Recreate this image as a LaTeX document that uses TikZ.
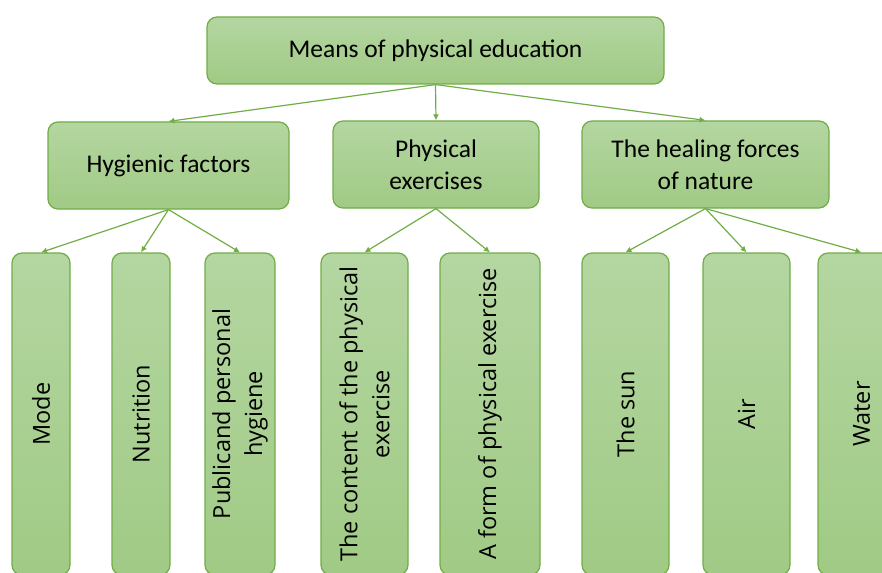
\documentclass[tikz,border=0pt]{standalone}
\usepackage{fontspec}
\setmainfont{Carlito}
\newfontfamily\leaffont{Open Sans}
\usetikzlibrary{arrows.meta}
\definecolor{boxline}{HTML}{71AD47}
\definecolor{boxtop}{HTML}{B4D6A1}
\definecolor{boxbot}{HTML}{A0CA85}
\newcommand{\boxfont}{\fontsize{25.5}{32}\selectfont}
\newcommand{\leafsize}{\leaffont\fontsize{23.5}{32}\selectfont}

\begin{document}
\begin{tikzpicture}[x=1pt,y=-1pt,
  box/.style={draw=boxline, line width=1.2pt, rounded corners=10pt,
    top color=boxtop, bottom color=boxbot, align=center,
    inner sep=0pt, font=\boxfont},
  leaf/.style={box, minimum height=322pt},
  vtext/.style={rotate=90, align=center, font=\leafsize},
  link/.style={-{Latex[length=6pt,width=6pt]}, boxline, line width=1.2pt}]
\useasboundingbox (0,0) rectangle (882,572);
\clip (0,0) rectangle (882,572);
% Root and first level:
\node (root) [box, minimum width=457pt, minimum height=67pt] at (435.5,50.5) {Means of physical education};
\node (hyg) [box, minimum width=241pt, minimum height=87pt] at (168.5,165.5) {Hygienic factors};
\node (phys) [box, minimum width=206pt, minimum height=87pt] at (436,164.5) {Physical\\exercises};
\node (heal) [box, minimum width=247pt, minimum height=87pt] at (705.5,164.5) {The healing forces\\of nature};
% Second level, text turned up:
\node (mode) [leaf, minimum width=58pt, label={[vtext]center:Mode}] at (41,414) {};
\node (nutr) [leaf, minimum width=58pt, label={[vtext]center:Nutrition}] at (141,414) {};
\node (publ) [leaf, minimum width=70pt, label={[vtext]center:{Publicand personal\\hygiene}}] at (240,414) {};
\node (cont) [leaf, minimum width=87pt, label={[vtext]center:{The content of the physical\\exercise}}] at (364.5,414) {};
\node (form) [leaf, minimum width=100pt, label={[vtext]center:A form of physical exercise}] at (490,414) {};
\node (sun) [leaf, minimum width=87pt, label={[vtext]center:The sun}] at (625.5,414) {};
\node (air) [leaf, minimum width=87pt, label={[vtext]center:Air}] at (746.5,414) {};
\node (water) [leaf, minimum width=87pt, label={[vtext]center:Water}] at (861.5,414) {};
% Arrows:
\draw[link] (root.south) -- (hyg.north);
\draw[link] (root.south) -- (phys.north);
\draw[link] (root.south) -- (heal.north);
\draw[link] (hyg.south) -- (mode.north);
\draw[link] (hyg.south) -- (nutr.north);
\draw[link] (hyg.south) -- (publ.north);
\draw[link] (phys.south) -- (cont.north);
\draw[link] (phys.south) -- (form.north);
\draw[link] (heal.south) -- (sun.north);
\draw[link] (heal.south) -- (air.north);
\draw[link] (heal.south) -- (water.north);
\end{tikzpicture}
\end{document}
